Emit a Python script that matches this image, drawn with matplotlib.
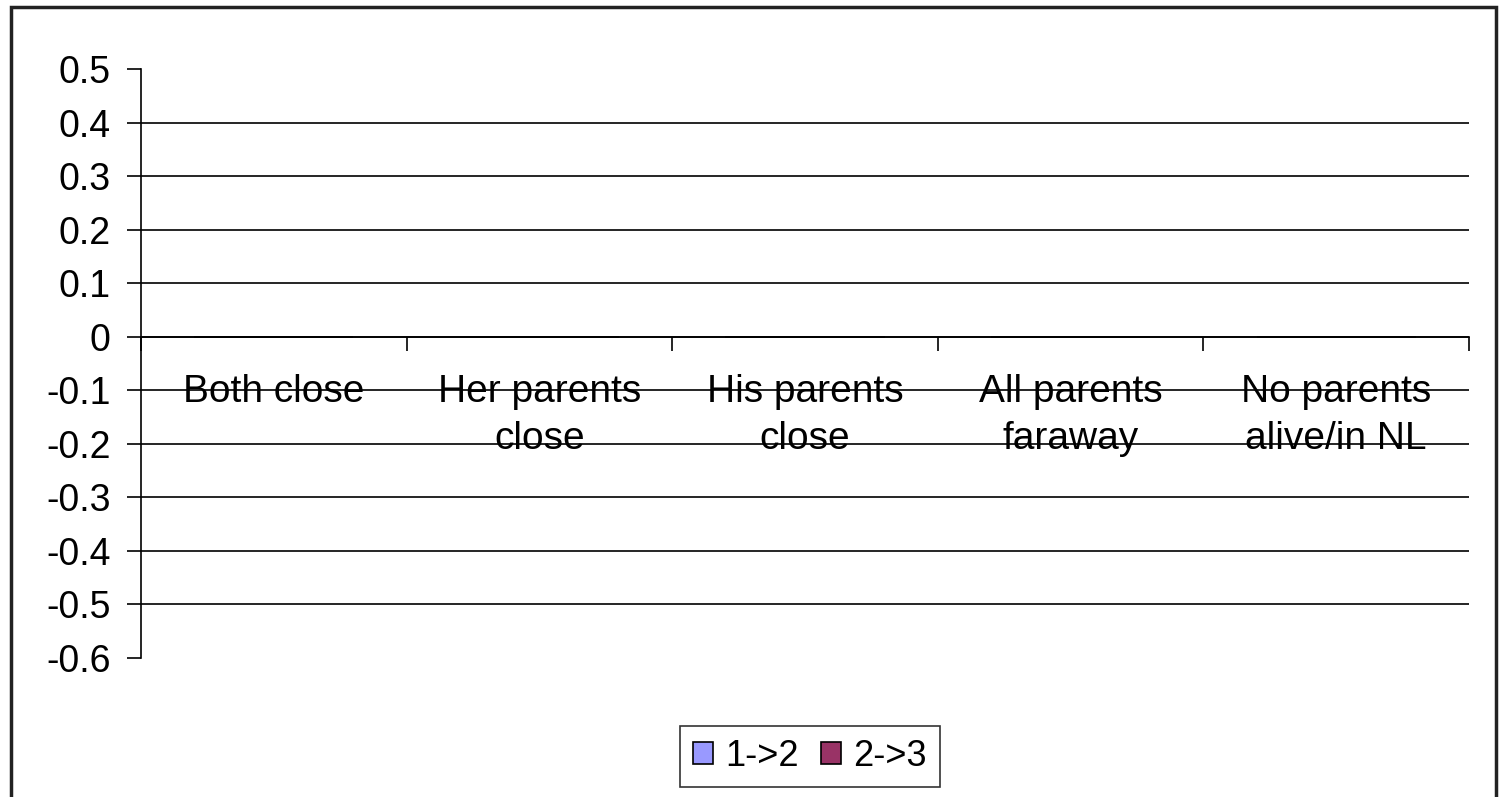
import matplotlib
matplotlib.use("Agg")
import matplotlib.pyplot as plt
import matplotlib.patches as patches
import numpy as np

plt.rcParams['font.family'] = ['Liberation Sans', 'DejaVu Sans']

categories = ["Both close", "Her parents\nclose", "His parents\nclose",
              "All parents\nfaraway", "No parents\nalive/in NL"]
series_names = ["1->2", "2->3"]
# no values shown in the chart -> empty bars
values_12 = [0.0, 0.0, 0.0, 0.0, 0.0]
values_23 = [0.0, 0.0, 0.0, 0.0, 0.0]
colors = ["#9999FF", "#993366"]
yticks = [0.5, 0.4, 0.3, 0.2, 0.1, 0, -0.1, -0.2, -0.3, -0.4, -0.5, -0.6]

fig = plt.figure(figsize=(14.99, 7.97), dpi=100)
ax = fig.add_axes([141/1499, 1 - 658/797, (1469 - 141)/1499, (658 - 69)/797])

x = np.arange(len(categories))
w = 0.3
ax.bar(x - w/2, values_12, w, color=colors[0], edgecolor="black", linewidth=1.2, label=series_names[0])
ax.bar(x + w/2, values_23, w, color=colors[1], edgecolor="black", linewidth=1.2, label=series_names[1])

ax.set_xlim(-0.5, len(categories) - 0.5)
ax.set_ylim(-0.6, 0.5)
ax.set_yticks(yticks)
ax.set_yticklabels([f"{v:g}" for v in yticks])
ax.tick_params(axis='y', length=10, width=1.2, pad=12, color="black", labelsize=27)

# category boundaries as ticks, names below the zero line
ax.set_xticks(np.arange(len(categories) + 1) - 0.5)
ax.set_xticklabels([])
ax.tick_params(axis='x', which='major', direction='out', length=10, width=1.2, color="black")
for i, cat in enumerate(categories):
    ax.annotate(cat, xy=(x[i], 0), xytext=(0, -27), textcoords="offset points",
                ha="center", va="top", fontsize=28, linespacing=1.4)

for s in ["top", "right"]:
    ax.spines[s].set_visible(False)
ax.spines['bottom'].set_position(('data', 0))
ax.spines['left'].set_linewidth(1.2)
ax.spines['bottom'].set_linewidth(1.2)

ax.yaxis.grid(True, color="black", linewidth=1.2)
ax.set_axisbelow(True)
grid = ax.get_ygridlines()
grid[0].set_visible(False)
grid[-1].set_visible(False)

leg = fig.legend(loc="center", bbox_to_anchor=(810/1499, 1 - 756.5/797), ncol=2,
                 fontsize=26, frameon=True, fancybox=False, edgecolor="black",
                 handlelength=0.55, handleheight=0.55, handletextpad=0.35,
                 columnspacing=0.6, borderpad=0.35, borderaxespad=0)
leg.get_frame().set_linewidth(1.2)

fig.patches.append(patches.Rectangle((11/1499, -0.02), (1496 - 11)/1499, 1 - 7/797 + 0.02,
                                     transform=fig.transFigure, fill=False,
                                     edgecolor="#222222", linewidth=2.5))

fig.savefig("out.png", dpi=100)
